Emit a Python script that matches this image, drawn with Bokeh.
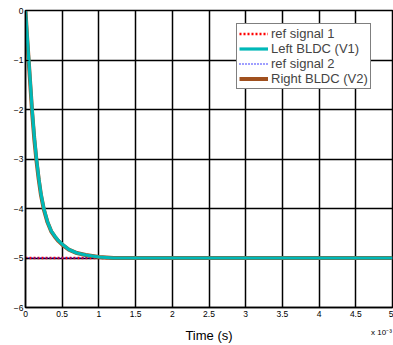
from bokeh.plotting import figure
from bokeh.models import Range1d, FixedTicker, Legend, LegendItem, LinearAxis
from bokeh.embed import file_html
from bokeh.resources import INLINE

# time in seconds
t_ref = [0.0, 0.005]
ref1 = [-5.0, -5.0]
ref2 = [-5.0, -5.0]

t_left = [0.0, 0.00002, 0.000045, 0.00007, 0.00009, 0.00012, 0.00015, 0.00018, 0.00021, 0.00025,
          0.0003, 0.00035, 0.0004, 0.00045, 0.0005, 0.00059, 0.0007, 0.00082, 0.001, 0.0012, 0.005]
v_left = [0.0, -0.45, -1.0, -1.55, -2.0, -2.55, -3.0, -3.38, -3.7, -4.0,
          -4.27, -4.45, -4.56, -4.65, -4.72, -4.83, -4.9, -4.94, -4.98, -5.0, -5.0]
t_right = [0.0, 0.00002, 0.000045, 0.00007, 0.00009, 0.00012, 0.00015, 0.00018, 0.00021, 0.00025,
           0.0003, 0.00035, 0.0004, 0.00045, 0.0005, 0.00059, 0.0007, 0.00082, 0.001, 0.0012, 0.005]
v_right = [0.0, -0.5, -1.05, -1.6, -2.05, -2.6, -3.04, -3.41, -3.72, -4.02,
           -4.28, -4.46, -4.57, -4.66, -4.73, -4.83, -4.9, -4.94, -4.98, -5.0, -5.0]

x_ticks = [0.0, 0.0005, 0.001, 0.0015, 0.002, 0.0025, 0.003, 0.0035, 0.004, 0.0045, 0.005]
x_tick_labels = ["0", "0.5", "1", "1.5", "2", "2.5", "3", "3.5", "4", "4.5", "5"]
y_ticks = [0, -1, -2, -3, -4, -5, -6]
exp_tick = 0.00485
exp_label = "x 10\u207b\u00b3"

FONT = "Liberation Sans"

p = figure(width=393, height=345, output_backend="svg", toolbar_location=None,
           x_range=Range1d(0, 0.005), y_range=Range1d(-6, 0),
           min_border_left=25, min_border_right=1, min_border_top=10, min_border_bottom=37)
p.background_fill_color = "white"
p.border_fill_color = "white"
p.outline_line_color = "black"
p.outline_line_width = 1.5

r1 = p.line(t_ref, ref1, line_color="red", line_width=2.5, line_dash="2 2")
r2 = p.line(t_ref, ref2, line_color="blue", line_width=1.5, line_dash="1 2")
rR = p.line(t_right, v_right, line_color="#A0501E", line_width=4)
rL = p.line(t_left, v_left, line_color="#00B8B8", line_width=3.2)

p.xaxis.ticker = FixedTicker(ticks=x_ticks)
p.xaxis.major_label_overrides = {x: l for x, l in zip(x_ticks, x_tick_labels)}
p.yaxis.ticker = FixedTicker(ticks=y_ticks)
for ax in (p.xaxis[0], p.yaxis[0]):
    ax.axis_line_color = "black"
    ax.axis_line_width = 1.5
    ax.major_tick_in = 3
    ax.major_tick_out = 0
    ax.minor_tick_line_color = None
    ax.major_label_text_font = FONT
    ax.major_label_text_font_size = "8.5px"
    ax.major_label_text_color = "black"
    ax.major_label_standoff = 3
p.yaxis.major_label_standoff = 2

# second axis below: carries the exponent label and the axis title
ax2 = LinearAxis(ticker=FixedTicker(ticks=[exp_tick]),
                 major_label_overrides={exp_tick: exp_label},
                 axis_label="Time (s)")
ax2.axis_line_color = None
ax2.major_tick_line_color = None
ax2.minor_tick_line_color = None
ax2.major_tick_in = 0
ax2.major_tick_out = 0
ax2.major_label_standoff = 8
ax2.major_label_text_font = FONT
ax2.major_label_text_font_size = "8px"
ax2.major_label_text_color = "black"
ax2.axis_label_text_font = FONT
ax2.axis_label_text_font_size = "13px"
ax2.axis_label_text_font_style = "normal"
ax2.axis_label_text_color = "black"
ax2.axis_label_standoff = -12
p.add_layout(ax2, "below")

p.grid.grid_line_color = "black"
p.grid.grid_line_width = 1.5
p.grid.grid_line_alpha = 1.0

legend = Legend(items=[
    LegendItem(label="ref signal 1", renderers=[r1]),
    LegendItem(label="Left BLDC (V1)", renderers=[rL]),
    LegendItem(label="ref signal 2", renderers=[r2]),
    LegendItem(label="Right BLDC (V2)", renderers=[rR]),
], location=(211, 218))
legend.label_text_font = FONT
legend.label_text_font_size = "13px"
legend.label_height = 15
legend.glyph_height = 15
legend.glyph_width = 29
legend.label_standoff = 3
legend.spacing = 0
legend.padding = 2
legend.margin = 0
legend.border_line_color = "black"
legend.border_line_width = 1.5
legend.background_fill_color = "white"
legend.background_fill_alpha = 1.0
p.add_layout(legend, "center")

open("out.html", "w").write(file_html(p, INLINE))
